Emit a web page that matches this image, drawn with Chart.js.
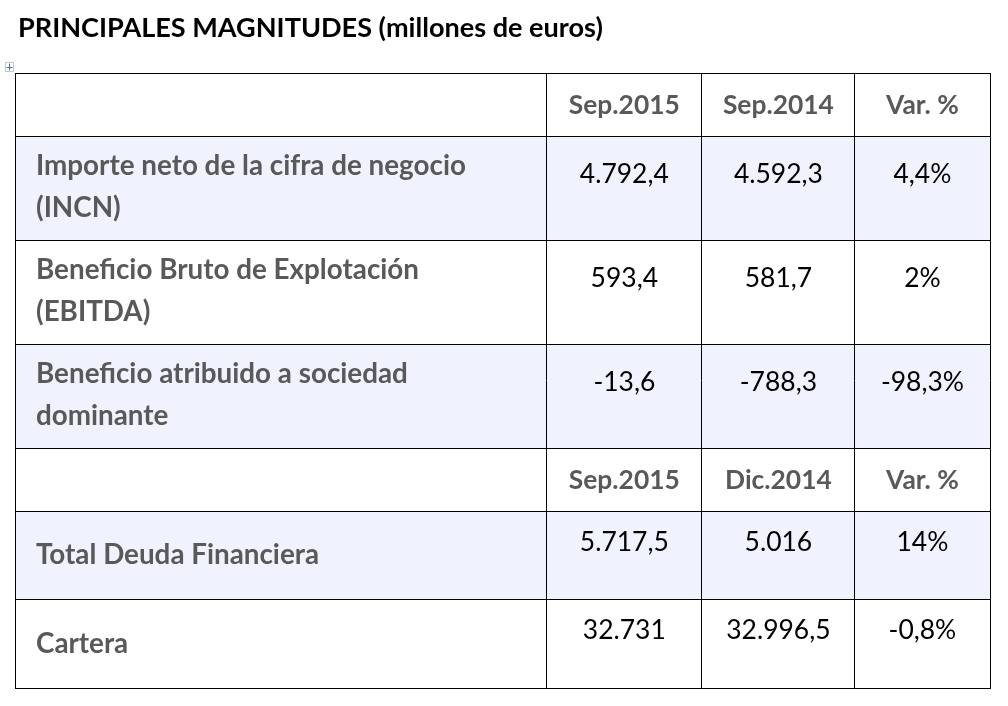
<!DOCTYPE html>
<html><head><meta charset="utf-8">
<script src="https://cdn.jsdelivr.net/npm/chart.js@4.4.1/dist/chart.umd.min.js"></script>
<style>html,body{margin:0;padding:0;background:#fff;overflow:hidden}canvas{display:block}</style>
</head><body>
<canvas id="c" width="1008" height="706"></canvas>
<script>
// ---- data ----
const chartTitle = "PRINCIPALES MAGNITUDES (millones de euros)";
const columnHeaders1 = ["Sep.2015", "Sep.2014", "Var. %"];
const columnHeaders2 = ["Sep.2015", "Dic.2014", "Var. %"];
const rowLabels = [
  ["Importe neto de la cifra de negocio", "(INCN)"],
  ["Beneficio Bruto de Explotación", "(EBITDA)"],
  ["Beneficio atribuido a sociedad", "dominante"],
  ["Total Deuda Financiera"],
  ["Cartera"]
];
const currentValues = [4792.4, 593.4, -13.6, 5717.5, 32731];
const previousValues = [4592.3, 581.7, -788.3, 5016, 32996.5];
const variationPct = [4.4, 2, -98.3, 14, -0.8];

// ---- layout (table grid in scale units) ----
const colEdges = [0, 531.5, 686.5, 839.5, 974.5];
const rowEdges = [0, 63, 167, 271, 375, 438, 526, 615];
const tableRows = [
  { kind: "header", headers: columnHeaders1 },
  { kind: "data", idx: 0, shaded: true },
  { kind: "data", idx: 1, shaded: false },
  { kind: "data", idx: 2, shaded: true },
  { kind: "header", headers: columnHeaders2 },
  { kind: "data", idx: 3, shaded: true },
  { kind: "data", idx: 4, shaded: false }
];
const SHADE = "#F0F3FD";
const GRAY = "#595959";
const FAMILY = "Lato, 'Open Sans', sans-serif";

function fmtNum(v) {
  const neg = v < 0;
  const a = Math.abs(v);
  const isInt = Number.isInteger(a);
  let intPart = Math.floor(a + 1e-9).toString();
  intPart = intPart.replace(/\B(?=(\d{3})+(?!\d))/g, ".");
  let s = intPart;
  if (!isInt) s += "," + Math.round((a - Math.floor(a)) * 10).toString();
  return (neg ? "-" : "") + s;
}
function fmtPct(v) { return fmtNum(v) + "%"; }

function fit(ctx, text, weight, target) {
  ctx.font = weight + " 100px " + FAMILY;
  const w = ctx.measureText(text).width;
  return 100 * target / w;
}

const tablePlugin = {
  id: "tablePlugin",
  beforeDraw(chart) {
    const { ctx, scales: { x, y } } = chart;
    ctx.save();
    const left = x.getPixelForValue(colEdges[0]);
    const right = x.getPixelForValue(colEdges[colEdges.length - 1]);
    tableRows.forEach((r, ri) => {
      if (!r.shaded) return;
      const top = y.getPixelForValue(rowEdges[ri]);
      const bot = y.getPixelForValue(rowEdges[ri + 1]);
      ctx.fillStyle = SHADE;
      ctx.fillRect(left, top, right - left, bot - top);
    });
    ctx.restore();
  },
  afterDraw(chart) {
    const { ctx, scales: { x, y } } = chart;
    ctx.save();
    // title
    const tSize = fit(ctx, chartTitle, "bold", 585);
    ctx.font = "bold " + tSize + "px " + FAMILY;
    ctx.fillStyle = "#000";
    ctx.textAlign = "left";
    ctx.textBaseline = "alphabetic";
    ctx.fillText(chartTitle, 18, 37);

    // table move handle icon
    ctx.strokeStyle = "#c8c8c8";
    ctx.lineWidth = 1;
    ctx.strokeRect(5.5, 62.5, 8, 9);
    ctx.strokeStyle = "#4a6fc0";
    ctx.beginPath();
    ctx.moveTo(9.5, 63.5); ctx.lineTo(9.5, 70.5);
    ctx.moveTo(6.5, 67.5); ctx.lineTo(12.5, 67.5);
    ctx.stroke();

    const labelSize = fit(ctx, rowLabels[0][0], "bold", 430);
    const headSize = fit(ctx, columnHeaders1[0], "bold", 111);
    const numSize = fit(ctx, fmtNum(currentValues[0]), "normal", 89);
    const labelX = x.getPixelForValue(colEdges[0]) + 21;
    const colCenter = (c) => (x.getPixelForValue(colEdges[c]) + x.getPixelForValue(colEdges[c + 1])) / 2;

    tableRows.forEach((r, ri) => {
      const top = y.getPixelForValue(rowEdges[ri]);
      const h = y.getPixelForValue(rowEdges[ri + 1]) - top;
      if (r.kind === "header") {
        ctx.font = "bold " + headSize + "px " + FAMILY;
        ctx.fillStyle = GRAY;
        ctx.textAlign = "center";
        r.headers.forEach((t, c) => ctx.fillText(t, colCenter(c + 1), top + 41));
      } else {
        const lines = rowLabels[r.idx];
        ctx.font = "bold " + labelSize + "px " + FAMILY;
        ctx.fillStyle = GRAY;
        ctx.textAlign = "left";
        if (lines.length === 2) {
          ctx.fillText(lines[0], labelX, top + 38.5);
          ctx.fillText(lines[1], labelX, top + 81);
        } else {
          ctx.fillText(lines[0], labelX, top + h / 2 + 9);
        }
        ctx.font = "normal " + numSize + "px " + FAMILY;
        ctx.fillStyle = "#000";
        ctx.textAlign = "center";
        const nb = lines.length === 2 ? 47 : 40;
        const vals = [fmtNum(currentValues[r.idx]), fmtNum(previousValues[r.idx]), fmtPct(variationPct[r.idx])];
        vals.forEach((t, c) => ctx.fillText(t, colCenter(c + 1), top + nb));
      }
    });
    ctx.restore();
  }
};

const edgeTicks = (edges) => (scale) => { scale.ticks = edges.map(v => ({ value: v })); };

new Chart(document.getElementById("c"), {
  type: "scatter",
  data: { datasets: [{ data: [], showLine: false }] },
  options: {
    responsive: false,
    animation: false,
    events: [],
    layout: { padding: { left: 15, top: 73, right: 18, bottom: 18 } },
    plugins: { legend: { display: false }, tooltip: { enabled: false }, title: { display: false } },
    scales: {
      x: {
        type: "linear", min: colEdges[0], max: colEdges[colEdges.length - 1],
        afterBuildTicks: edgeTicks(colEdges),
        ticks: { display: false },
        grid: { color: "#000", lineWidth: 1, drawTicks: false },
        border: { display: true, color: "#000", width: 1 }
      },
      y: {
        type: "linear", reverse: true, min: rowEdges[0], max: rowEdges[rowEdges.length - 1],
        afterBuildTicks: edgeTicks(rowEdges),
        ticks: { display: false },
        grid: { color: "#000", lineWidth: 1, drawTicks: false },
        border: { display: true, color: "#000", width: 1 }
      }
    }
  },
  plugins: [tablePlugin]
});
</script>
</body></html>
